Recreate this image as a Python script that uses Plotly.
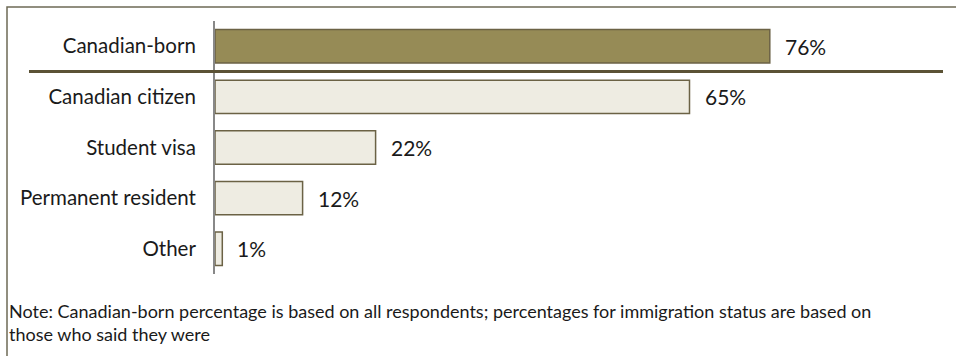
import plotly.graph_objects as go

categories = ["Canadian-born", "Canadian citizen", "Student visa", "Permanent resident", "Other"]
values = [76, 65, 22, 12, 1]
fill_colors = ["#968B56", "#EEECE2", "#EEECE2", "#EEECE2", "#EEECE2"]
note_lines = [
    "Note: Canadian-born percentage is based on all respondents; percentages for immigration status are based on",
    "those who said they were",
]

FONT = "Lato, sans-serif"
W, H = 956, 356
L, T, B, R = 215, 21, 82, 0
plot_w = W - L - R
plot_h = H - T - B


def px_x(px):
    return (px - L) / plot_w


def px_y(py):
    return (H - B - py) / plot_h


fig = go.Figure()
fig.add_trace(go.Bar(
    y=categories, x=values, orientation="h",
    marker=dict(color=fill_colors, line=dict(color="#6B6245", width=1.5)),
    width=0.66, hoverinfo="skip",
))

for c, v in zip(categories, values):
    fig.add_annotation(x=v, y=c, text=f"{v}%", showarrow=False,
                       xanchor="left", xshift=13,
                       font=dict(family=FONT, size=21, color="#1a1a1a"))

# separator between total and breakdown rows
fig.add_shape(type="line", xref="paper", yref="y",
              x0=px_x(29), x1=px_x(943), y0=0.5, y1=0.5,
              line=dict(color="#5B5235", width=3))

# outer frame (left and top edges)
fig.add_shape(type="path", xref="paper", yref="paper",
              path=f"M {px_x(7)} {px_y(400)} L {px_x(7)} {px_y(7)} L {px_x(1000)} {px_y(7)}",
              line=dict(color="#6E6A55", width=1.5))

fig.add_annotation(xref="paper", yref="paper", x=px_x(7), y=px_y(322),
                   xanchor="left", yanchor="middle", align="left", showarrow=False,
                   text="<br>".join(note_lines),
                   font=dict(family=FONT, size=18, color="#1a1a1a"))

fig.update_layout(
    width=W, height=H,
    margin=dict(l=L, r=R, t=T, b=B),
    paper_bgcolor="white", plot_bgcolor="white",
    showlegend=False,
    font=dict(family=FONT, size=20.5, color="#1a1a1a"),
    xaxis=dict(range=[0, plot_w / 7.3], visible=False, fixedrange=True),
    yaxis=dict(autorange=False, range=[4.5, -0.5], type="category",
               showline=True, linecolor="#888888", linewidth=2,
               showgrid=False, ticks="", ticklabelstandoff=13,
               tickfont=dict(family=FONT, size=20.5, color="#1a1a1a")),
)

fig.write_html("out.html")
